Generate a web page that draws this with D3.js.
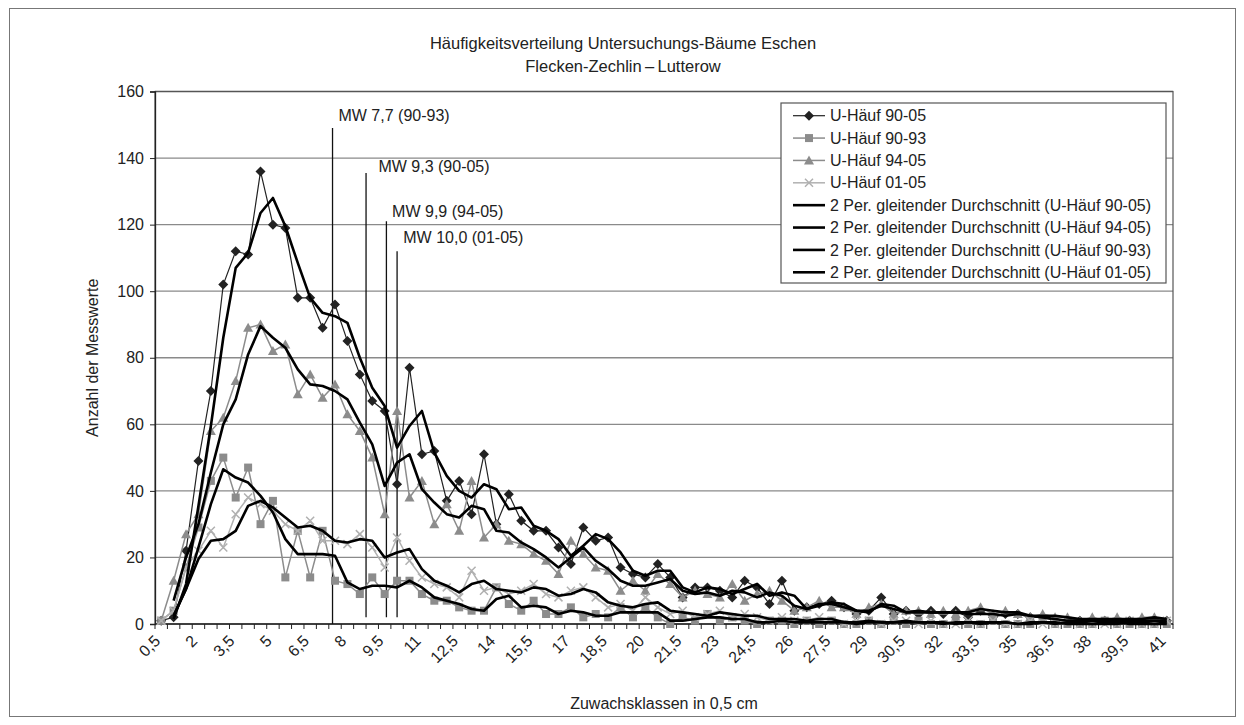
<!DOCTYPE html>
<html>
<head>
<meta charset="utf-8">
<script src="https://cdn.jsdelivr.net/npm/d3@7"></script>
<style>
  html, body { margin: 0; padding: 0; background: #fff; }
  svg { display: block; font-family: "Liberation Sans", Arial, sans-serif; }
</style>
</head>
<body>
<svg id="chart" width="1244" height="725"></svg>
<script>
// ---- data ----
const classes = ["0,5","1","1,5","2","2,5","3","3,5","4","4,5","5","5,5","6","6,5","7","7,5","8","8,5","9","9,5","10",
  "10,5","11","11,5","12","12,5","13","13,5","14","14,5","15","15,5","16","16,5","17","17,5","18","18,5","19","19,5","20",
  "20,5","21","21,5","22","22,5","23","23,5","24","24,5","25","25,5","26","26,5","27","27,5","28","28,5","29","29,5","30",
  "30,5","31","31,5","32","32,5","33","33,5","34","34,5","35","35,5","36","36,5","37","37,5","38","38,5","39","39,5","40",
  "40,5","41"];
const tickLabels = ["0,5","2","3,5","5","6,5","8","9,5","11","12,5","14","15,5","17","18,5","20","21,5","23","24,5","26",
  "27,5","29","30,5","32","33,5","35","36,5","38","39,5","41"];
const yTicks = [0,20,40,60,80,100,120,140,160];

const hauf9005 = [1,2,22,49,70,102,112,111,136,120,119,98,98,89,96,85,75,67,64,42,
  77,51,52,37,43,33,51,30,39,31,28,28,23,18,29,25,26,17,15,14,
  18,14,8,11,11,10,8,13,11,6,13,4,5,6,7,5,3,4,8,3,
  4,3,4,3,4,2,4,2,3,3,2,2,1,1,1,1,1,1,1,1,
  1,1];
const hauf9093 = [1,4,17,29,43,50,38,47,30,37,14,28,14,28,13,12,9,14,9,13,
  13,9,7,7,5,4,4,11,6,4,7,3,3,5,2,3,2,5,2,5,
  2,0,2,1,3,1,2,1,0,1,1,0,1,0,1,0,0,1,0,1,
  0,1,0,0,1,0,0,1,0,0,0,1,0,0,0,0,1,0,0,0,
  0,0];
const hauf9405 = [1,13,27,33,58,62,73,89,90,82,84,69,75,68,72,63,58,50,33,64,
  38,43,30,36,28,43,26,30,25,24,21,19,15,25,21,17,16,10,13,10,
  15,12,8,10,9,8,12,7,9,10,7,4,5,7,5,5,3,5,6,3,
  4,4,3,4,3,4,5,3,4,3,2,3,2,2,1,2,1,2,1,2,
  2,1];
const hauf0105 = [1,4,17,22,28,23,33,38,36,34,30,28,31,25,25,24,27,23,17,26,
  19,14,12,11,8,16,10,11,9,10,12,9,8,10,11,8,5,6,4,8,
  5,3,4,2,3,4,2,3,2,1,2,1,1,2,1,0,1,1,0,1,
  1,0,1,0,0,1,0,1,0,0,1,0,0,1,0,0,0,0,1,0,
  0,1];

const seriesNames = ["U-Häuf 90-05","U-Häuf 90-93","U-Häuf 94-05","U-Häuf 01-05"];
const maNames = ["2 Per. gleitender Durchschnitt (U-Häuf 90-05)","2 Per. gleitender Durchschnitt (U-Häuf 94-05)",
  "2 Per. gleitender Durchschnitt (U-Häuf 90-93)","2 Per. gleitender Durchschnitt (U-Häuf 01-05)"];

// mean value markers (class position, top value, label, label value)
const mwLabels = ["MW 7,7 (90-93)","MW 9,3 (90-05)","MW 9,9 (94-05)","MW 10,0 (01-05)"];
const mwLinePos = [7.4, 8.75, 9.57, 10.0];
const mwLabelPos = [7.64, 9.25, 9.8, 10.25];
const mwTop = [149, 135.5, 121, 112];
const mwLabelY = [152.8, 137.5, 124, 116.3];

// ---- layout ----
const FONT = 16;
const svg = d3.select("#chart");
const L = 155, R = 1173, T = 91.5, B = 624;
const x = d3.scaleBand().domain(classes).range([L, R]).padding(0);
const bw = x.bandwidth();
const cx = c => x(c) + bw / 2;
const classX = d3.scaleLinear().domain([0.5, 41]).range([L + bw / 2, R - bw / 2]);
const y = d3.scaleLinear().domain([0, 160]).range([B, T]);

// outer frame
svg.append("rect").attr("x", 9.5).attr("y", 8.5).attr("width", 1226).attr("height", 708)
  .attr("fill", "#fff").attr("stroke", "#777").attr("stroke-width", 1);

// gridlines
svg.append("g").selectAll("line").data(yTicks.filter(t => t > 0)).join("line")
  .attr("x1", L).attr("x2", R).attr("y1", d => y(d)).attr("y2", d => y(d))
  .attr("stroke", "#8a8a8a").attr("stroke-width", 1.3);

// plot border
svg.append("rect").attr("x", L).attr("y", T).attr("width", R - L).attr("height", B - T)
  .attr("fill", "none").attr("stroke", "#555").attr("stroke-width", 1.2);

// y axis
const yAxis = d3.axisLeft(y).tickValues(yTicks).tickSize(5).tickPadding(6);
const gy = svg.append("g").attr("transform", `translate(${L},0)`).call(yAxis);
gy.select(".domain").attr("stroke", "#222").attr("stroke-width", 1.3);
gy.selectAll(".tick line").attr("stroke", "#222");
gy.selectAll("text").attr("font-size", FONT).attr("fill", "#222")
  .attr("font-family", "Liberation Sans, Arial, sans-serif");

// x axis: ticks at category boundaries
const gx = svg.append("g");
gx.append("line").attr("x1", L).attr("x2", R).attr("y1", B).attr("y2", B)
  .attr("stroke", "#222").attr("stroke-width", 1.3);
gx.selectAll("line.tk").data(classes).join("line").attr("class", "tk")
  .attr("x1", d => x(d)).attr("x2", d => x(d)).attr("y1", B).attr("y2", B + 5)
  .attr("stroke", "#222");
gx.append("line").attr("x1", R).attr("x2", R).attr("y1", B).attr("y2", B + 5).attr("stroke", "#222");
gx.selectAll("text").data(tickLabels).join("text")
  .attr("transform", d => `translate(${cx(d) - 4},${B + 14}) rotate(-45)`)
  .attr("text-anchor", "end").attr("dy", "0.35em")
  .attr("font-size", FONT).attr("fill", "#222").text(d => d);

// titles
svg.append("text").attr("x", 623).attr("y", 49).attr("text-anchor", "middle")
  .attr("font-size", 16.5).attr("fill", "#222").text("Häufigkeitsverteilung Untersuchungs-Bäume Eschen");
svg.append("text").attr("x", 623).attr("y", 72).attr("text-anchor", "middle")
  .attr("font-size", 16.5).attr("fill", "#222").text("Flecken-Zechlin\u2009\u2013\u2009Lutterow");
svg.append("text").attr("transform", `translate(98,${(T + B) / 2}) rotate(-90)`).attr("text-anchor", "middle")
  .attr("font-size", FONT).attr("fill", "#222").text("Anzahl der Messwerte");
svg.append("text").attr("x", 664).attr("y", 709).attr("text-anchor", "middle")
  .attr("font-size", FONT).attr("fill", "#222").text("Zuwachsklassen in 0,5 cm");

// mean lines
const gm = svg.append("g");
mwLinePos.forEach((p, k) => {
  gm.append("line").attr("x1", classX(p)).attr("x2", classX(p))
    .attr("y1", y(mwTop[k])).attr("y2", k === 0 ? B : y(2))
    .attr("stroke", "#111").attr("stroke-width", 1.3);
  gm.append("text").attr("x", classX(mwLabelPos[k])).attr("y", y(mwLabelY[k])).attr("dy", "0.35em")
    .attr("font-size", FONT).attr("fill", "#222").text(mwLabels[k]);
});

// series
const seriesData = [hauf9005, hauf9093, hauf9405, hauf0105];
const seriesStyle = [
  { color: "#222", marker: "diamond", w: 1.2 },
  { color: "#8c8c8c", marker: "square", w: 1.5 },
  { color: "#8c8c8c", marker: "triangle", w: 1.5 },
  { color: "#b0b0b0", marker: "cross", w: 1.5 }
];
const line = d3.line().x((d, i) => cx(classes[i])).y(d => y(d));

function drawMarker(g, type, px, py, color) {
  if (type === "diamond") {
    g.append("path").attr("d", `M${px},${py - 5}L${px + 5},${py}L${px},${py + 5}L${px - 5},${py}Z`)
      .attr("fill", color);
  } else if (type === "square") {
    g.append("rect").attr("x", px - 4).attr("y", py - 4).attr("width", 8).attr("height", 8).attr("fill", color);
  } else if (type === "triangle") {
    g.append("path").attr("d", `M${px},${py - 5}L${px + 5},${py + 4}L${px - 5},${py + 4}Z`)
      .attr("fill", color);
  } else {
    g.append("path").attr("d", `M${px - 4},${py - 4}L${px + 4},${py + 4}M${px - 4},${py + 4}L${px + 4},${py - 4}`)
      .attr("stroke", color).attr("stroke-width", 1.5);
  }
}

seriesData.forEach((arr, k) => {
  const st = seriesStyle[k];
  const g = svg.append("g");
  g.append("path").datum(arr).attr("d", line).attr("fill", "none")
    .attr("stroke", st.color).attr("stroke-width", st.w);
  arr.forEach((v, i) => drawMarker(g, st.marker, cx(classes[i]), y(v), st.color));
});

// 2-period moving averages (trendlines of the series above)
const maSources = [hauf9005, hauf9405, hauf9093, hauf0105];
maSources.forEach(arr => {
  const pts = arr.map((v, i) => i === 0 ? null : [cx(classes[i]), y((arr[i - 1] + v) / 2)]).filter(p => p);
  svg.append("path").datum(pts).attr("d", d3.line()).attr("fill", "none")
    .attr("stroke", "#000").attr("stroke-width", 2.6).attr("stroke-linejoin", "round");
});

// legend
const lg = svg.append("g");
lg.append("rect").attr("x", 781).attr("y", 103).attr("width", 385).attr("height", 180)
  .attr("fill", "#fff").attr("stroke", "#555").attr("stroke-width", 1.2);
const entries = seriesNames.map((n, k) => ({ name: n, st: seriesStyle[k] }))
  .concat(maNames.map(n => ({ name: n, st: null })));
entries.forEach((e, k) => {
  const ly = 115.7 + k * 22.37;
  if (e.st) {
    lg.append("line").attr("x1", 793).attr("x2", 825).attr("y1", ly).attr("y2", ly)
      .attr("stroke", e.st.color).attr("stroke-width", e.st.w);
    drawMarker(lg, e.st.marker, 809, ly, e.st.color);
  } else {
    lg.append("line").attr("x1", 793).attr("x2", 825).attr("y1", ly).attr("y2", ly)
      .attr("stroke", "#000").attr("stroke-width", 2.6);
  }
  lg.append("text").attr("x", 830).attr("y", ly).attr("dy", "0.35em")
    .attr("font-size", FONT).attr("fill", "#222").text(e.name);
});
</script>
</body>
</html>
